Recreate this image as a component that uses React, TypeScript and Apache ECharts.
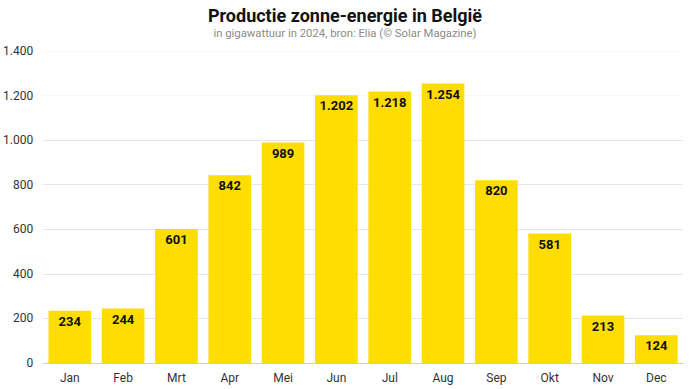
import React, { useEffect, useRef } from "react";
import * as echarts from "echarts";

const months = ["Jan", "Feb", "Mrt", "Apr", "Mei", "Jun", "Jul", "Aug", "Sep", "Okt", "Nov", "Dec"];
const production = [234, 244, 601, 842, 989, 1202, 1218, 1254, 820, 581, 213, 124];
const yTicks = { min: 0, max: 1400, interval: 200 };

const fmt = (v: number) => String(v).replace(/\B(?=(\d{3})+(?!\d))/g, ".");

export default function App() {
  const ref = useRef<HTMLDivElement>(null);
  useEffect(() => {
    const chart = echarts.init(ref.current!, null, { renderer: "svg" });
    chart.setOption({
      animation: false,
      backgroundColor: "#ffffff",
      title: {
        text: "Productie zonne-energie in België",
        subtext: "in gigawattuur in 2024, bron: Elia (© Solar Magazine)",
        left: "center",
        top: 1,
        itemGap: 4,
        textStyle: { fontFamily: "Roboto", fontSize: 18, fontWeight: "bold", color: "#111" },
        subtextStyle: { fontFamily: "Roboto", fontSize: 11.3, color: "#8a8a8a" },
      },
      grid: { left: 42, right: 7, top: 51, bottom: 26, containLabel: false },
      xAxis: {
        type: "category",
        data: months,
        axisTick: { show: false },
        axisLine: { lineStyle: { color: "#cccccc" } },
        axisLabel: { fontFamily: "Roboto", fontSize: 12, color: "#333", margin: 9 },
      },
      yAxis: {
        type: "value",
        min: yTicks.min,
        max: yTicks.max,
        interval: yTicks.interval,
        axisLabel: { fontFamily: "Roboto", fontSize: 12, color: "#333", margin: 10, formatter: (v: number) => fmt(v) },
        splitLine: {
          lineStyle: {
            color: ["#e6e6e6", "#e6e6e6", "#e6e6e6", "#e6e6e6", "#e6e6e6", "#e6e6e6", "#f7f7f7", "#f7f7f7"],
          },
        },
      },
      series: [
        {
          type: "bar",
          data: production,
          barWidth: "80%",
          itemStyle: { color: "#FFDD00" },
          label: {
            show: true,
            position: "insideTop",
            distance: 4,
            fontFamily: "Roboto",
            fontSize: 13,
            fontWeight: "bold",
            color: "#111",
            formatter: (p: any) => fmt(p.value),
          },
        },
      ],
    });
    return () => chart.dispose();
  }, []);
  return <div ref={ref} style={{ width: 690, height: 389, position: "fixed", left: 0, top: 0 }} />;
}
